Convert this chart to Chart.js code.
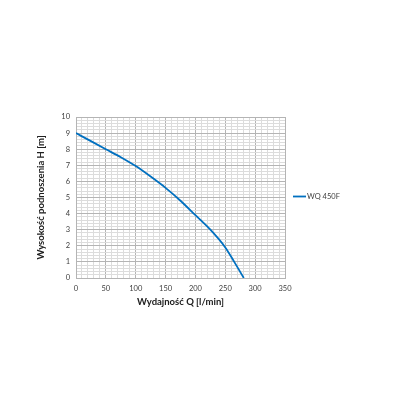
<!DOCTYPE html>
<html>
<head>
<meta charset="utf-8">
<script src="https://cdn.jsdelivr.net/npm/chart.js@4"></script>
<style>
  html, body { margin: 0; padding: 0; background: #fff; }
  #wrap { width: 410px; height: 410px; }
</style>
</head>
<body>
<div id="wrap"><canvas id="chart" width="410" height="410"></canvas></div>
<script>
// --- data ---
const flowQ = [0, 25, 50, 75, 100, 125, 150, 175, 200, 225, 250, 265, 281];
const headH = [9.0, 8.5, 8.0, 7.5, 6.95, 6.3, 5.6, 4.8, 3.9, 3.0, 1.9, 1.0, 0];
const seriesName = 'WQ 450F';
const xTitle = 'Wydajność Q [l/min]';
const yTitle = 'Wysokość podnoszenia H [m]';
const xMax = 350;
const yMax = 10;

const lineBlue = '#0070c0';
const majorGrid = '#b4b4b4';
const minorGrid = '#dcdcdc';
const labelColor = '#404040';

// legend drawn by hand, next to the plot
const sideLegend = {
    id: 'sideLegend',
    afterDraw(chart) {
        const ctx = chart.ctx;
        const area = chart.chartArea;
        const y = (area.top + area.bottom) / 2 - 1;
        const x = area.right + 8;
        ctx.save();
        ctx.strokeStyle = lineBlue;
        ctx.lineWidth = 1.8;
        ctx.beginPath();
        ctx.moveTo(x, y);
        ctx.lineTo(x + 13, y);
        ctx.stroke();
        ctx.fillStyle = labelColor;
        ctx.font = '7.5px Lato';
        ctx.textBaseline = 'middle';
        ctx.fillText(seriesName, x + 14, y);
        ctx.restore();
    }
};

const ctx = document.getElementById('chart').getContext('2d');
new Chart(ctx, {
    type: 'line',
    data: {
        datasets: [{
            label: seriesName,
            data: flowQ.map((q, i) => ({ x: q, y: headH[i] })),
            borderColor: lineBlue,
            borderWidth: 1.8,
            pointRadius: 0,
            fill: false,
            cubicInterpolationMode: 'monotone'
        }]
    },
    options: {
        responsive: false,
        animation: false,
        layout: { padding: { left: 31, right: 125, top: 117, bottom: 98 } },
        plugins: { legend: { display: false }, tooltip: { enabled: false } },
        scales: {
            x: {
                type: 'linear',
                min: 0,
                max: xMax,
                afterFit: (s) => { s.height = 34; },
                border: { color: majorGrid },
                grid: {
                    color: (c) => (c.tick && c.tick.value % 50 === 0) ? majorGrid : minorGrid,
                    drawTicks: false
                },
                ticks: {
                    stepSize: 10,
                    autoSkip: false,
                    maxRotation: 0,
                    padding: 6,
                    color: labelColor,
                    font: { family: 'Lato', size: 7.5 },
                    callback: (v) => v % 50 === 0 ? String(v) : ''
                },
                title: {
                    display: true,
                    text: xTitle,
                    color: '#202020',
                    font: { family: 'Lato', size: 9.5, weight: 'bold' },
                    padding: { top: 1 }
                }
            },
            y: {
                type: 'linear',
                min: 0,
                max: yMax,
                afterFit: (s) => { s.width = 45; },
                border: { color: majorGrid },
                grid: {
                    color: (c) => (c.tick && Math.abs(c.tick.value - Math.round(c.tick.value)) < 1e-6) ? majorGrid : minorGrid,
                    drawTicks: false
                },
                ticks: {
                    stepSize: 0.2,
                    autoSkip: false,
                    padding: 6,
                    color: labelColor,
                    font: { family: 'Lato', size: 7.5 },
                    callback: (v) => Math.abs(v - Math.round(v)) < 1e-6 ? String(Math.round(v)) : ''
                },
                title: {
                    display: true,
                    text: yTitle,
                    color: '#202020',
                    font: { family: 'Lato', size: 9.5, weight: 'bold' },
                    padding: { bottom: 4 }
                }
            }
        }
    },
    plugins: [sideLegend]
});
</script>
</body>
</html>
